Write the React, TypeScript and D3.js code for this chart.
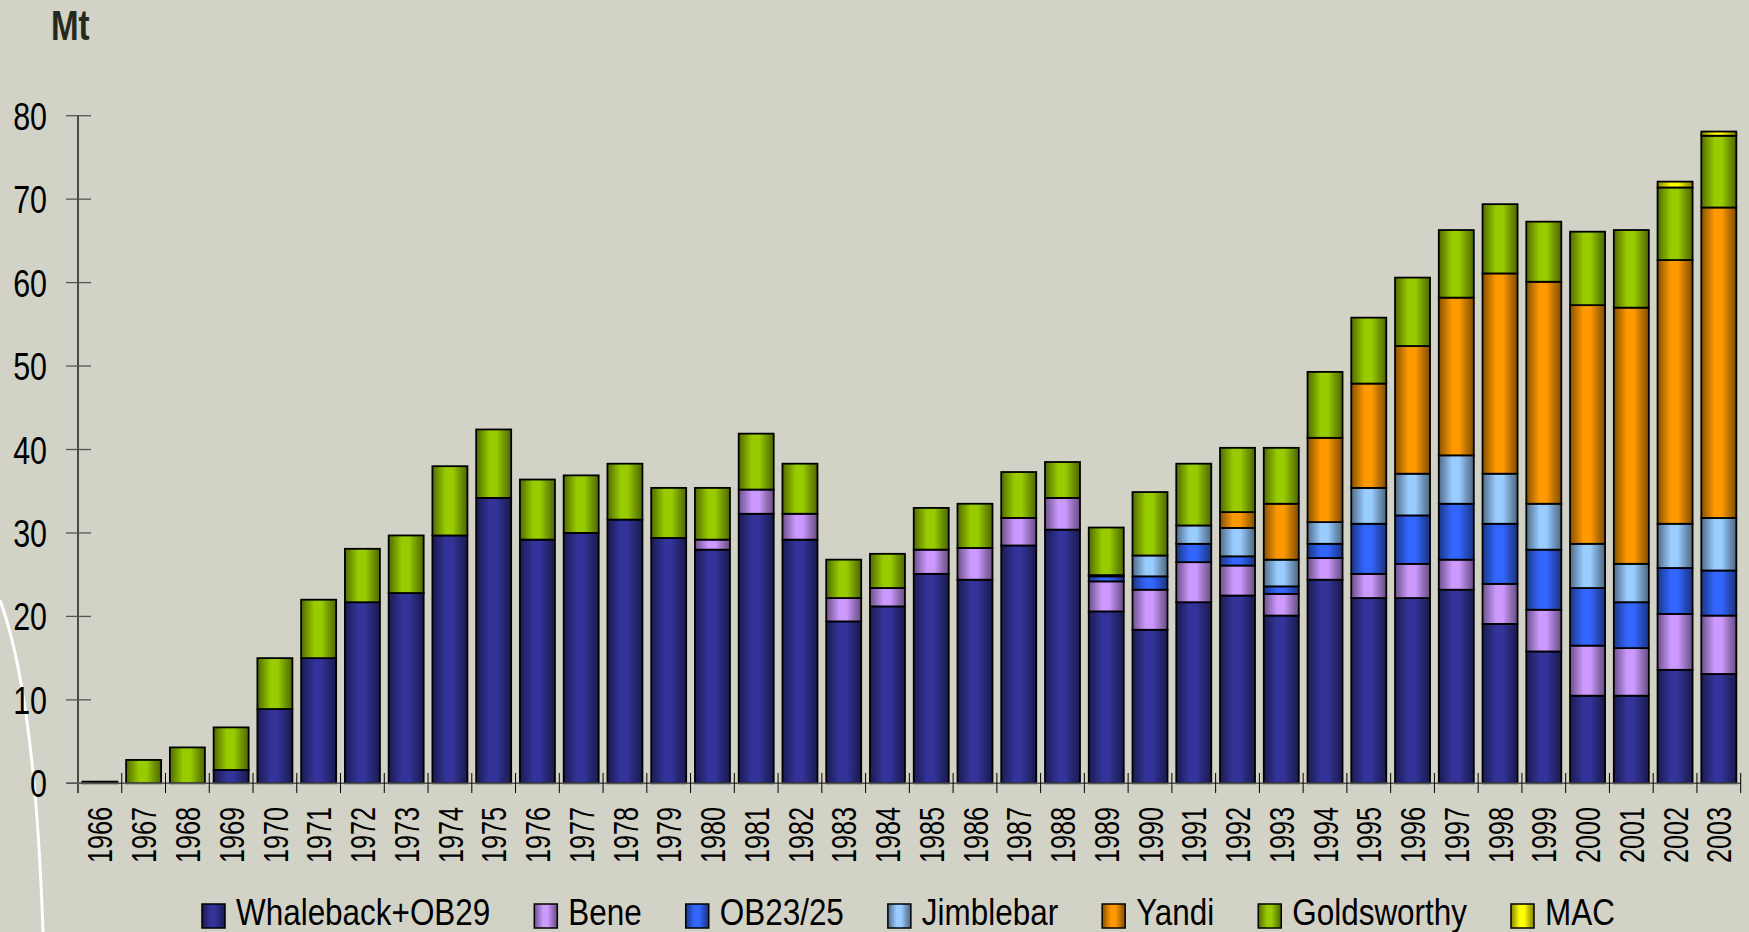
import React, { useEffect, useRef } from 'react'
import * as d3 from 'd3'

const years = ['1966', '1967', '1968', '1969', '1970', '1971', '1972', '1973', '1974', '1975',
  '1976', '1977', '1978', '1979', '1980', '1981', '1982', '1983', '1984', '1985',
  '1986', '1987', '1988', '1989', '1990', '1991', '1992', '1993', '1994', '1995',
  '1996', '1997', '1998', '1999', '2000', '2001', '2002', '2003']

const whaleback = [0.2, 0, 0, 1.6, 8.9, 15.0, 21.7, 22.8, 29.7, 34.2,
  29.2, 30.0, 31.6, 29.4, 28.0, 32.3, 29.2, 19.4, 21.2, 25.1,
  24.4, 28.5, 30.4, 20.6, 18.4, 21.7, 22.5, 20.1, 24.4, 22.2,
  22.2, 23.2, 19.1, 15.8, 10.5, 10.5, 13.6, 13.1]
const bene = [0, 0, 0, 0, 0, 0, 0, 0, 0, 0,
  0, 0, 0, 0, 1.2, 2.9, 3.1, 2.8, 2.2, 2.9,
  3.8, 3.3, 3.8, 3.6, 4.8, 4.8, 3.6, 2.6, 2.6, 2.9,
  4.1, 3.6, 4.8, 5.0, 6.0, 5.7, 6.7, 7.0]
const ob2325 = [0, 0, 0, 0, 0, 0, 0, 0, 0, 0,
  0, 0, 0, 0, 0, 0, 0, 0, 0, 0,
  0, 0, 0, 0.6, 1.6, 2.2, 1.1, 0.9, 1.7, 6.0,
  5.8, 6.7, 7.2, 7.2, 6.9, 5.5, 5.5, 5.4]
const jimblebar = [0, 0, 0, 0, 0, 0, 0, 0, 0, 0,
  0, 0, 0, 0, 0, 0, 0, 0, 0, 0,
  0, 0, 0, 0.15, 2.5, 2.2, 3.4, 3.2, 2.6, 4.3,
  5.0, 5.8, 6.0, 5.5, 5.3, 4.6, 5.3, 6.3]
const yandi = [0, 0, 0, 0, 0, 0, 0, 0, 0, 0,
  0, 0, 0, 0, 0, 0, 0, 0, 0, 0,
  0, 0, 0, 0, 0, 0, 1.9, 6.7, 10.1, 12.5,
  15.3, 18.9, 24.0, 26.6, 28.6, 30.7, 31.6, 37.2]
const goldsworthy = [0, 2.8, 4.3, 5.1, 6.1, 7.0, 6.4, 6.9, 8.3, 8.2,
  7.2, 6.9, 6.7, 6.0, 6.2, 6.7, 6.0, 4.6, 4.1, 5.0,
  5.3, 5.5, 4.3, 5.7, 7.6, 7.4, 7.7, 6.7, 7.9, 7.9,
  8.2, 8.1, 8.3, 7.2, 8.8, 9.3, 8.7, 8.6]
const mac = [0, 0, 0, 0, 0, 0, 0, 0, 0, 0,
  0, 0, 0, 0, 0, 0, 0, 0, 0, 0,
  0, 0, 0, 0, 0, 0, 0, 0, 0, 0,
  0, 0, 0, 0, 0, 0, 0.7, 0.5]

const seriesNames = ['Whaleback+OB29', 'Bene', 'OB23/25', 'Jimblebar', 'Yandi', 'Goldsworthy', 'MAC']
const seriesValues = [whaleback, bene, ob2325, jimblebar, yandi, goldsworthy, mac]
const seriesColors = ['#333399', '#cc99ff', '#3366ff', '#99ccff', '#ff9900', '#99cc00', '#ffff00']
const yTicks = [0, 10, 20, 30, 40, 50, 60, 70, 80]

const W = 1749, H = 932
const FONT = '"Liberation Sans", Arial, sans-serif'

function App() {
  const ref = useRef<SVGSVGElement>(null)

  useEffect(() => {
    const svg = d3.select(ref.current)
    svg.selectAll('*').remove()

    // Gradients, one per series (dark edges, bright middle)
    const defs = svg.append('defs')
    seriesColors.forEach((c, i) => {
      const g = defs.append('linearGradient').attr('id', 'grad' + i)
        .attr('x1', 0).attr('x2', 1).attr('y1', 0).attr('y2', 0)
      const stops: [number, string][] = [
        [0, d3.color(c)!.darker(1.8).formatHex()],
        [0.18, d3.color(c)!.darker(0.8).formatHex()],
        [0.38, c],
        [0.58, c],
        [0.8, d3.color(c)!.darker(0.9).formatHex()],
        [1, d3.color(c)!.darker(1.9).formatHex()],
      ]
      stops.forEach(s => g.append('stop').attr('offset', s[0]).attr('stop-color', s[1]))
    })

    svg.append('rect').attr('width', W).attr('height', H).attr('fill', '#d2d2c6')

    // decorative white arc on the left
    svg.append('path').attr('d', 'M0,600 Q35,695 43,932')
      .attr('fill', 'none').attr('stroke', '#ffffff').attr('stroke-width', 3)

    const x = d3.scaleBand().domain(years).range([78, 1740.7]).paddingInner(0.2).paddingOuter(0.1)
    const y = d3.scaleLinear().domain([0, 80]).range([783.3, 115.7])

    // stacked data
    const table = years.map((yr, i) => {
      const row: any = { year: yr }
      seriesNames.forEach((n, j) => { row[n] = seriesValues[j][i] })
      return row
    })
    const stacked = d3.stack().keys(seriesNames)(table)

    const bars = svg.append('g')
    stacked.forEach((layer, j) => {
      bars.append('g').selectAll('rect')
        .data(layer.filter(d => d[1] - d[0] > 0))
        .join('rect')
        .attr('x', d => x((d.data as any).year)!)
        .attr('width', x.bandwidth())
        .attr('y', d => y(d[1]))
        .attr('height', d => y(d[0]) - y(d[1]))
        .attr('fill', `url(#grad${j})`)
        .attr('stroke', '#000')
        .attr('stroke-width', 1.8)
    })

    // Y axis
    const axis = svg.append('g')
    axis.append('line').attr('x1', 78).attr('x2', 78).attr('y1', y(80)).attr('y2', 793)
      .attr('stroke', '#000').attr('stroke-width', 1.3)
    yTicks.forEach(t => {
      axis.append('line').attr('x1', 66).attr('x2', 91).attr('y1', y(t)).attr('y2', y(t))
        .attr('stroke', '#555').attr('stroke-width', 1.3)
      axis.append('g').attr('transform', `translate(47,${y(t)})`)
        .append('text').attr('transform', 'scale(0.78,1)')
        .attr('text-anchor', 'end').attr('dy', '0.36em')
        .style('font-family', FONT).style('font-size', '39px').attr('fill', '#000')
        .text(t)
    })

    // X axis
    axis.append('line').attr('x1', 66).attr('x2', 1741).attr('y1', y(0)).attr('y2', y(0))
      .attr('stroke', '#555').attr('stroke-width', 1.5)
    years.forEach((yr, i) => {
      const bx = x.step() * (i + 1) + 78
      axis.append('line').attr('x1', bx).attr('x2', bx).attr('y1', 773).attr('y2', 793)
        .attr('stroke', '#000').attr('stroke-width', 1)
      const cx = x(yr)! + x.bandwidth() / 2
      axis.append('g').attr('transform', `translate(${cx},807) rotate(-90) scale(0.72,1)`)
        .append('text').attr('text-anchor', 'end').attr('dy', '0.36em')
        .style('font-family', FONT).style('font-size', '35px').attr('fill', '#000')
        .text(yr)
    })

    // Unit label
    svg.append('g').attr('transform', 'translate(51,40)')
      .append('text').attr('transform', 'scale(0.77,1)')
      .style('font-family', FONT).style('font-size', '43px').style('font-weight', 'bold')
      .attr('fill', '#262a1e').text('Mt')

    // Legend
    const legend = svg.append('g')
    let lx = 202
    seriesNames.forEach((n, j) => {
      legend.append('rect').attr('x', lx).attr('y', 904).attr('width', 23).attr('height', 24)
        .attr('fill', `url(#grad${j})`).attr('stroke', '#000').attr('stroke-width', 1.5)
      const t = legend.append('g').attr('transform', `translate(${lx + 34},925)`)
        .append('text').attr('transform', 'scale(0.85,1)')
        .style('font-family', FONT).style('font-size', '37px').attr('fill', '#000')
        .text(n)
      const len = (t.node() as SVGTextElement).getComputedTextLength() * 0.85
      lx = lx + 34 + len + 44
    })
  }, [])

  return (
    <svg ref={ref} width={W} height={H}
      style={{ position: 'absolute', left: 0, top: 0, display: 'block' }} />
  )
}

export default App
